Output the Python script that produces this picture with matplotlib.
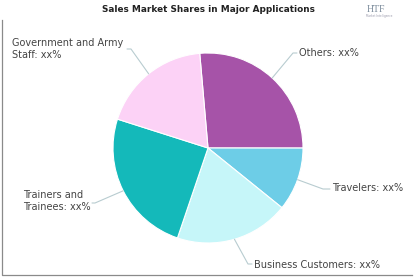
import matplotlib.pyplot as plt
import numpy as np

# Slice shares (clockwise from the top)
apps = ["Others", "Travelers", "Business Customers", "Trainers and Trainees",
        "Government and Army Staff"]
shares = [26.4, 10.8, 19.4, 24.7, 18.7]
labels = ["Others: xx%", "Travelers: xx%", "Business Customers: xx%",
          "Trainers and\nTrainees: xx%", "Government and Army\nStaff: xx%"]
colors = ["#A653A8", "#6DCDE7", "#C6F6F9", "#14B9BA", "#FCD2F6"]

W, H = 416, 277
fig = plt.figure(figsize=(W / 100, H / 100), dpi=100)
ax = fig.add_axes([0, 0, 1, 1])

cx, cy, r = 208, H - 148, 95
wedges, _ = ax.pie(shares, colors=colors, startangle=95, counterclock=False,
                   center=(cx, cy), radius=r, frame=True,
                   wedgeprops=dict(linewidth=0.8, edgecolor="white"))
ax.set_xlim(0, W)
ax.set_ylim(0, H)
ax.set_aspect("equal")
ax.axis("off")

# label placement: elbow point, text anchor, side (image coords)
layout = [
    ((293, 53), (299, 53), "left"),
    ((323, 189), (332, 188), "left"),
    ((248, 264), (254, 265), "left"),
    ((95, 203), (90, 201), "right"),
    ((131, 49), (125, 49), "right"),
]
line_col = "#B8CCD0"
for w, lab, (elbow, txt, side) in zip(wedges, labels, layout):
    ang = np.deg2rad((w.theta1 + w.theta2) / 2)
    x0, y0 = cx + r * np.cos(ang), cy + r * np.sin(ang)
    ex, ey = elbow[0], H - elbow[1]
    tx = txt[0] - 2 if side == "left" else txt[0] + 2
    ax.plot([x0, ex, tx], [y0, ey, ey], color=line_col, lw=0.8,
            solid_capstyle="round")
    if side == "right":
        lx = 12 if "Gov" in lab else 23
    else:
        lx = txt[0]
    ax.text(lx, H - txt[1], lab, ha="left", va="center", fontsize=7,
            color="#444444", linespacing=1.25)

ax.text(208, H - 9, "Sales Market Shares in Major Applications", ha="center",
        va="center", fontsize=6.4, fontweight="heavy", color="#222222",
        family=["Liberation Sans Narrow", "DejaVu Sans"])

# logo
ax.text(376, H - 9, "HTF", ha="center", va="center", fontsize=7,
        color="#7A8A9A", family=["Liberation Serif", "DejaVu Serif"])
ax.text(379, H - 16, "Market Intelligence", ha="center", va="center",
        fontsize=2, color="#99A")

# frame
ax.plot([2, 2, 412], [H - 20, 2, 2], color="#8A8A8A", lw=0.9)

fig.savefig("out.png", dpi=100)
